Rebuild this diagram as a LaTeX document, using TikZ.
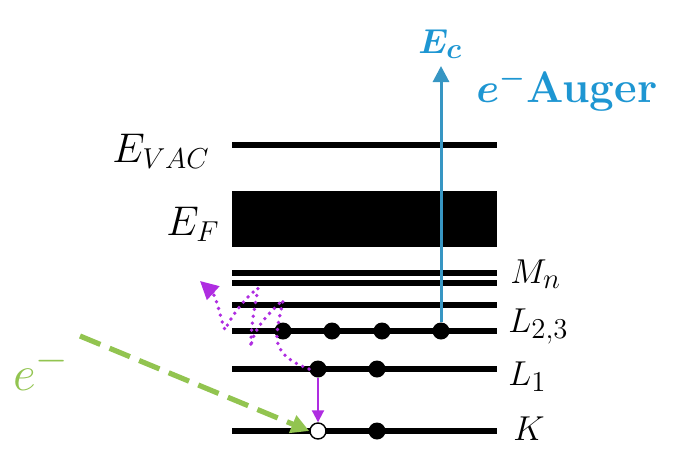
\documentclass[tikz,border=0pt]{standalone}
\usepackage{amsmath,bm}
\usetikzlibrary{arrows.meta}
\definecolor{augerblue}{RGB}{30,150,210}
\definecolor{lineblue}{RGB}{55,150,195}
\definecolor{egreen}{RGB}{146,196,80}
\definecolor{emag}{RGB}{175,45,225}
\tikzset{
  level/.style={line width=3pt},
  filldot/.style={circle,fill=black,inner sep=0pt,minimum size=8.5pt},
  opendot/.style={circle,fill=white,draw=black,line width=0.7pt,inner sep=0pt,minimum size=8pt},
  biglab/.style={inner sep=0pt,font=\fontsize{22}{26}\selectfont},
  rlab/.style={inner sep=0pt,font=\fontsize{19}{22}\selectfont,anchor=base west},
}
\begin{document}
\begin{tikzpicture}[x=0.5pt,y=-0.5pt]
\useasboundingbox (0,0) rectangle (674,451);
% levels
\coordinate (vacL) at (232,145); \coordinate (vacR) at (497,145);
\draw[level] (vacL) -- (vacR);
\fill (232,191) rectangle (497,247);
\draw[level] (232,273) -- (497,273);
\draw[level] (232,283) -- (497,283);
\draw[level] (232,305) -- (497,305);
\draw[level] (232,331) -- (497,331);
\draw[level] (232,369) -- (497,369);
\draw[level] (232,431) -- (497,431);
% left labels
\node[biglab,anchor=base east] (evac) at (210,162) {$E_{VAC}$};
\node[biglab,anchor=base east] (ef) at (220,235) {$E_F$};
% right labels
\node[rlab] (mn) at (510,283) {$M_n$};
\node[rlab] (l23) at (508,332) {$L_{2,3}$};
\node[rlab] (l1) at (508,385) {$L_1$};
\node[rlab] (k) at (513,440) {$K$};
% dots
\node[filldot] (a1) at (283,331) {};
\node[filldot] (a2) at (332,331) {};
\node[filldot] (a3) at (382,331) {};
\node[filldot] (a4) at (441,331) {};
\node[filldot] (b1) at (318,369) {};
\node[filldot] (b2) at (377,369) {};
\node[filldot] (c2) at (377,431) {};
% Auger
\coordinate (ectop) at (441,66);
\draw[lineblue,line width=1.5pt,-{Triangle[length=8pt,width=8pt]}] (a4) -- (ectop);
\node[inner sep=0pt,anchor=base west,text=augerblue,font=\fontsize{19}{22}\selectfont] (ec) at (418,53) {$\bm{E_c}$};
\node[inner sep=0pt,anchor=base west,text=augerblue,font=\fontsize{22}{26}\selectfont\bfseries] (aug) at (476,102) {$\bm{e^-}$Auger};
% incoming electron
\node[inner sep=0pt,anchor=base west,text=egreen,font=\fontsize{29}{32}\selectfont] (ein) at (13,390) {$e^-$};
\coordinate (gstart) at (80,336);
% open hole
\node[opendot] (c1) at (318,431) {};
\draw[egreen,line width=2.6pt,dash pattern=on 11pt off 5pt,-{Triangle[length=9pt,width=9pt]}] (gstart) -- (c1.west);
% transition L1 -> K
\draw[emag,line width=1pt,-{Triangle[length=6pt,width=6pt]}] (b1) -- (c1.north);
% photon (dotted wave)
\coordinate (ptip) at (200,281);
\draw[emag,line width=1.9pt,line cap=round,dash pattern=on 0pt off 3.5pt]
  (b1.west) .. controls (290,362) and (276,352) .. (277,335)
  .. controls (278,318) and (284,300) .. (283,300)
  .. controls (270,312) and (252,330) .. (251,347)
  .. controls (250,330) and (256,300) .. (258,288)
  .. controls (245,298) and (232,315) .. (225,330)
  .. controls (220,318) and (218,300) .. (212,292);
\draw[emag,line width=1.6pt,-{Triangle[length=9pt,width=9pt]},shorten <=1pt] (212,292) -- (ptip);
\end{tikzpicture}
\end{document}
